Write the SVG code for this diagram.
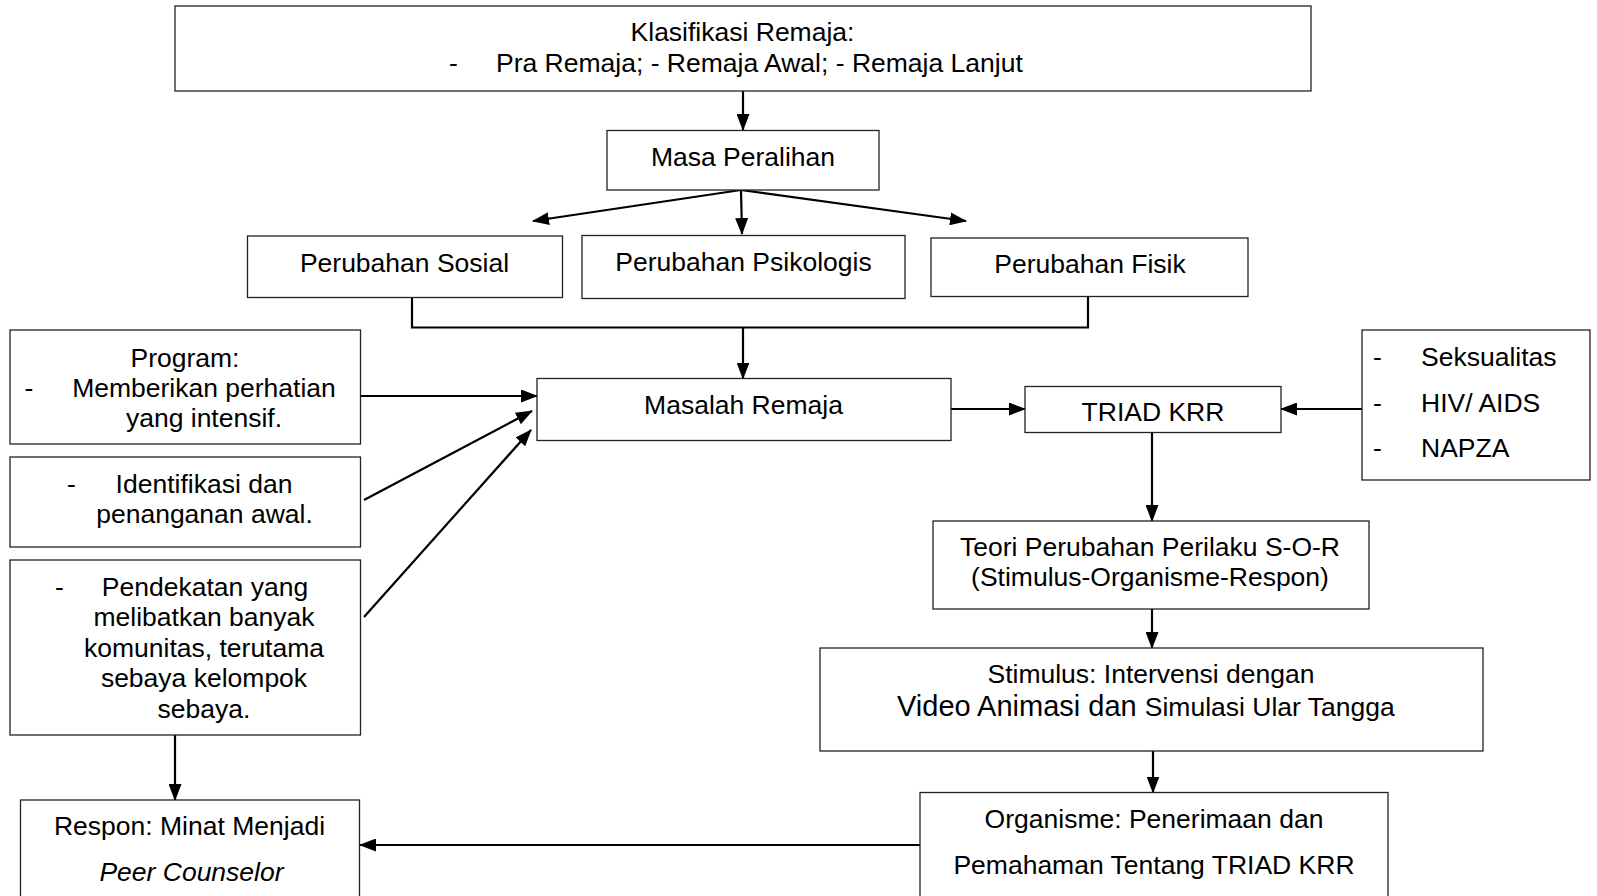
<svg xmlns="http://www.w3.org/2000/svg" width="1597" height="896" viewBox="0 0 1597 896">
<style>
.box{fill:#fff;stroke:#222;stroke-width:1.3}
.t{font-family:"Liberation Sans",Arial,sans-serif;font-size:26.5px;fill:#000}
.c{text-anchor:middle}
.con{stroke:#000;stroke-width:2.2;fill:none}
.arr{marker-end:url(#ah)}
</style>
<defs>
<marker id="ah" markerUnits="userSpaceOnUse" markerWidth="17" markerHeight="13" refX="16" refY="6.5" orient="auto">
<path d="M0,0 L17,6.5 L0,13 z" fill="#000"/>
</marker>
</defs>
<rect width="1597" height="896" fill="#fff"/>
<g id="connectors">
<line class="con arr" x1="743" y1="91" x2="743" y2="130"/>
<line class="con arr" x1="741" y1="190" x2="533" y2="221"/>
<line class="con arr" x1="741" y1="190" x2="742" y2="234"/>
<line class="con arr" x1="741" y1="190" x2="966" y2="221"/>
<polyline class="con" points="412,297.5 412,327.5 1088,327.5 1088,296.5"/>
<line class="con arr" x1="743" y1="327.5" x2="743" y2="378.5"/>
<line class="con arr" x1="361" y1="396" x2="537" y2="396"/>
<line class="con arr" x1="364" y1="500" x2="532" y2="411"/>
<line class="con arr" x1="364" y1="617" x2="531" y2="430"/>
<line class="con arr" x1="951" y1="409" x2="1025" y2="409"/>
<line class="con arr" x1="1362" y1="409" x2="1281" y2="409"/>
<line class="con arr" x1="1152" y1="432" x2="1152" y2="521"/>
<line class="con arr" x1="1152" y1="609" x2="1152" y2="648"/>
<line class="con arr" x1="1153" y1="751" x2="1153" y2="792.5"/>
<line class="con arr" x1="920" y1="845" x2="360" y2="845"/>
<line class="con arr" x1="175" y1="735" x2="175" y2="800"/>
</g>
<g id="klasifikasi">
<rect class="box" x="175" y="6" width="1136" height="85"/>
<text class="t c" x="742.5" y="41">Klasifikasi Remaja:</text>
<text class="t" x="449" y="72">-</text>
<text class="t" x="496" y="72">Pra Remaja; - Remaja Awal; - Remaja Lanjut</text>
</g>
<g id="masa">
<rect class="box" x="607" y="130.5" width="272" height="59.5"/>
<text class="t c" x="743" y="166">Masa Peralihan</text>
</g>
<g id="sosial">
<rect class="box" x="247.5" y="236" width="315" height="61.5"/>
<text class="t c" x="404.5" y="271.5">Perubahan Sosial</text>
</g>
<g id="psikologis">
<rect class="box" x="582" y="235.5" width="323" height="63"/>
<text class="t c" x="743.5" y="270.5">Perubahan Psikologis</text>
</g>
<g id="fisik">
<rect class="box" x="931" y="238" width="317" height="58.5"/>
<text class="t c" x="1090" y="272.5">Perubahan Fisik</text>
</g>
<g id="program">
<rect class="box" x="10" y="330" width="350.5" height="114"/>
<text class="t c" x="185" y="366.5">Program:</text>
<text class="t" x="24.5" y="397">-</text>
<text class="t c" x="204" y="397">Memberikan perhatian</text>
<text class="t c" x="204" y="426.5">yang intensif.</text>
</g>
<g id="identifikasi">
<rect class="box" x="10" y="457" width="350.5" height="90"/>
<text class="t" x="67" y="492.5">-</text>
<text class="t c" x="204" y="492.5">Identifikasi dan</text>
<text class="t c" x="204.5" y="523">penanganan awal.</text>
</g>
<g id="pendekatan">
<rect class="box" x="10" y="560" width="350.5" height="175"/>
<text class="t" x="55" y="595.5">-</text>
<text class="t c" x="205" y="595.5">Pendekatan yang</text>
<text class="t c" x="204" y="626">melibatkan banyak</text>
<text class="t c" x="204" y="656.5">komunitas, terutama</text>
<text class="t c" x="204" y="687">sebaya kelompok</text>
<text class="t c" x="204" y="717.5">sebaya.</text>
</g>
<g id="masalah">
<rect class="box" x="537" y="378.5" width="414" height="62"/>
<text class="t c" x="743.5" y="414">Masalah Remaja</text>
</g>
<g id="triad">
<rect class="box" x="1025" y="386.5" width="256" height="46"/>
<text class="t c" x="1153" y="421">TRIAD KRR</text>
</g>
<g id="topik">
<rect class="box" x="1362" y="330" width="228" height="150"/>
<text class="t" x="1373" y="366">-</text>
<text class="t" x="1421" y="366">Seksualitas</text>
<text class="t" x="1373" y="412">-</text>
<text class="t" x="1421" y="412">HIV/ AIDS</text>
<text class="t" x="1373" y="457">-</text>
<text class="t" x="1421" y="457">NAPZA</text>
</g>
<g id="teori">
<rect class="box" x="933" y="521" width="436" height="88"/>
<text class="t c" x="1150" y="556">Teori Perubahan Perilaku S-O-R</text>
<text class="t c" x="1150" y="586">(Stimulus-Organisme-Respon)</text>
</g>
<g id="stimulus">
<rect class="box" x="820" y="648" width="663" height="103"/>
<text class="t c" x="1151" y="683">Stimulus: Intervensi dengan</text>
<text class="t" x="897" y="716"><tspan style="font-size:29px">Video Animasi dan </tspan>Simulasi Ular Tangga</text>
</g>
<g id="organisme">
<rect class="box" x="920" y="792.5" width="468" height="115"/>
<text class="t c" x="1154" y="827.5">Organisme: Penerimaan dan</text>
<text class="t c" x="1154" y="873.5">Pemahaman Tentang TRIAD KRR</text>
</g>
<g id="respon">
<rect class="box" x="20.5" y="800" width="339" height="110"/>
<text class="t c" x="189.5" y="835">Respon: Minat Menjadi</text>
<text class="t c" x="191.5" y="881" font-style="italic">Peer Counselor</text>
</g>
</svg>
